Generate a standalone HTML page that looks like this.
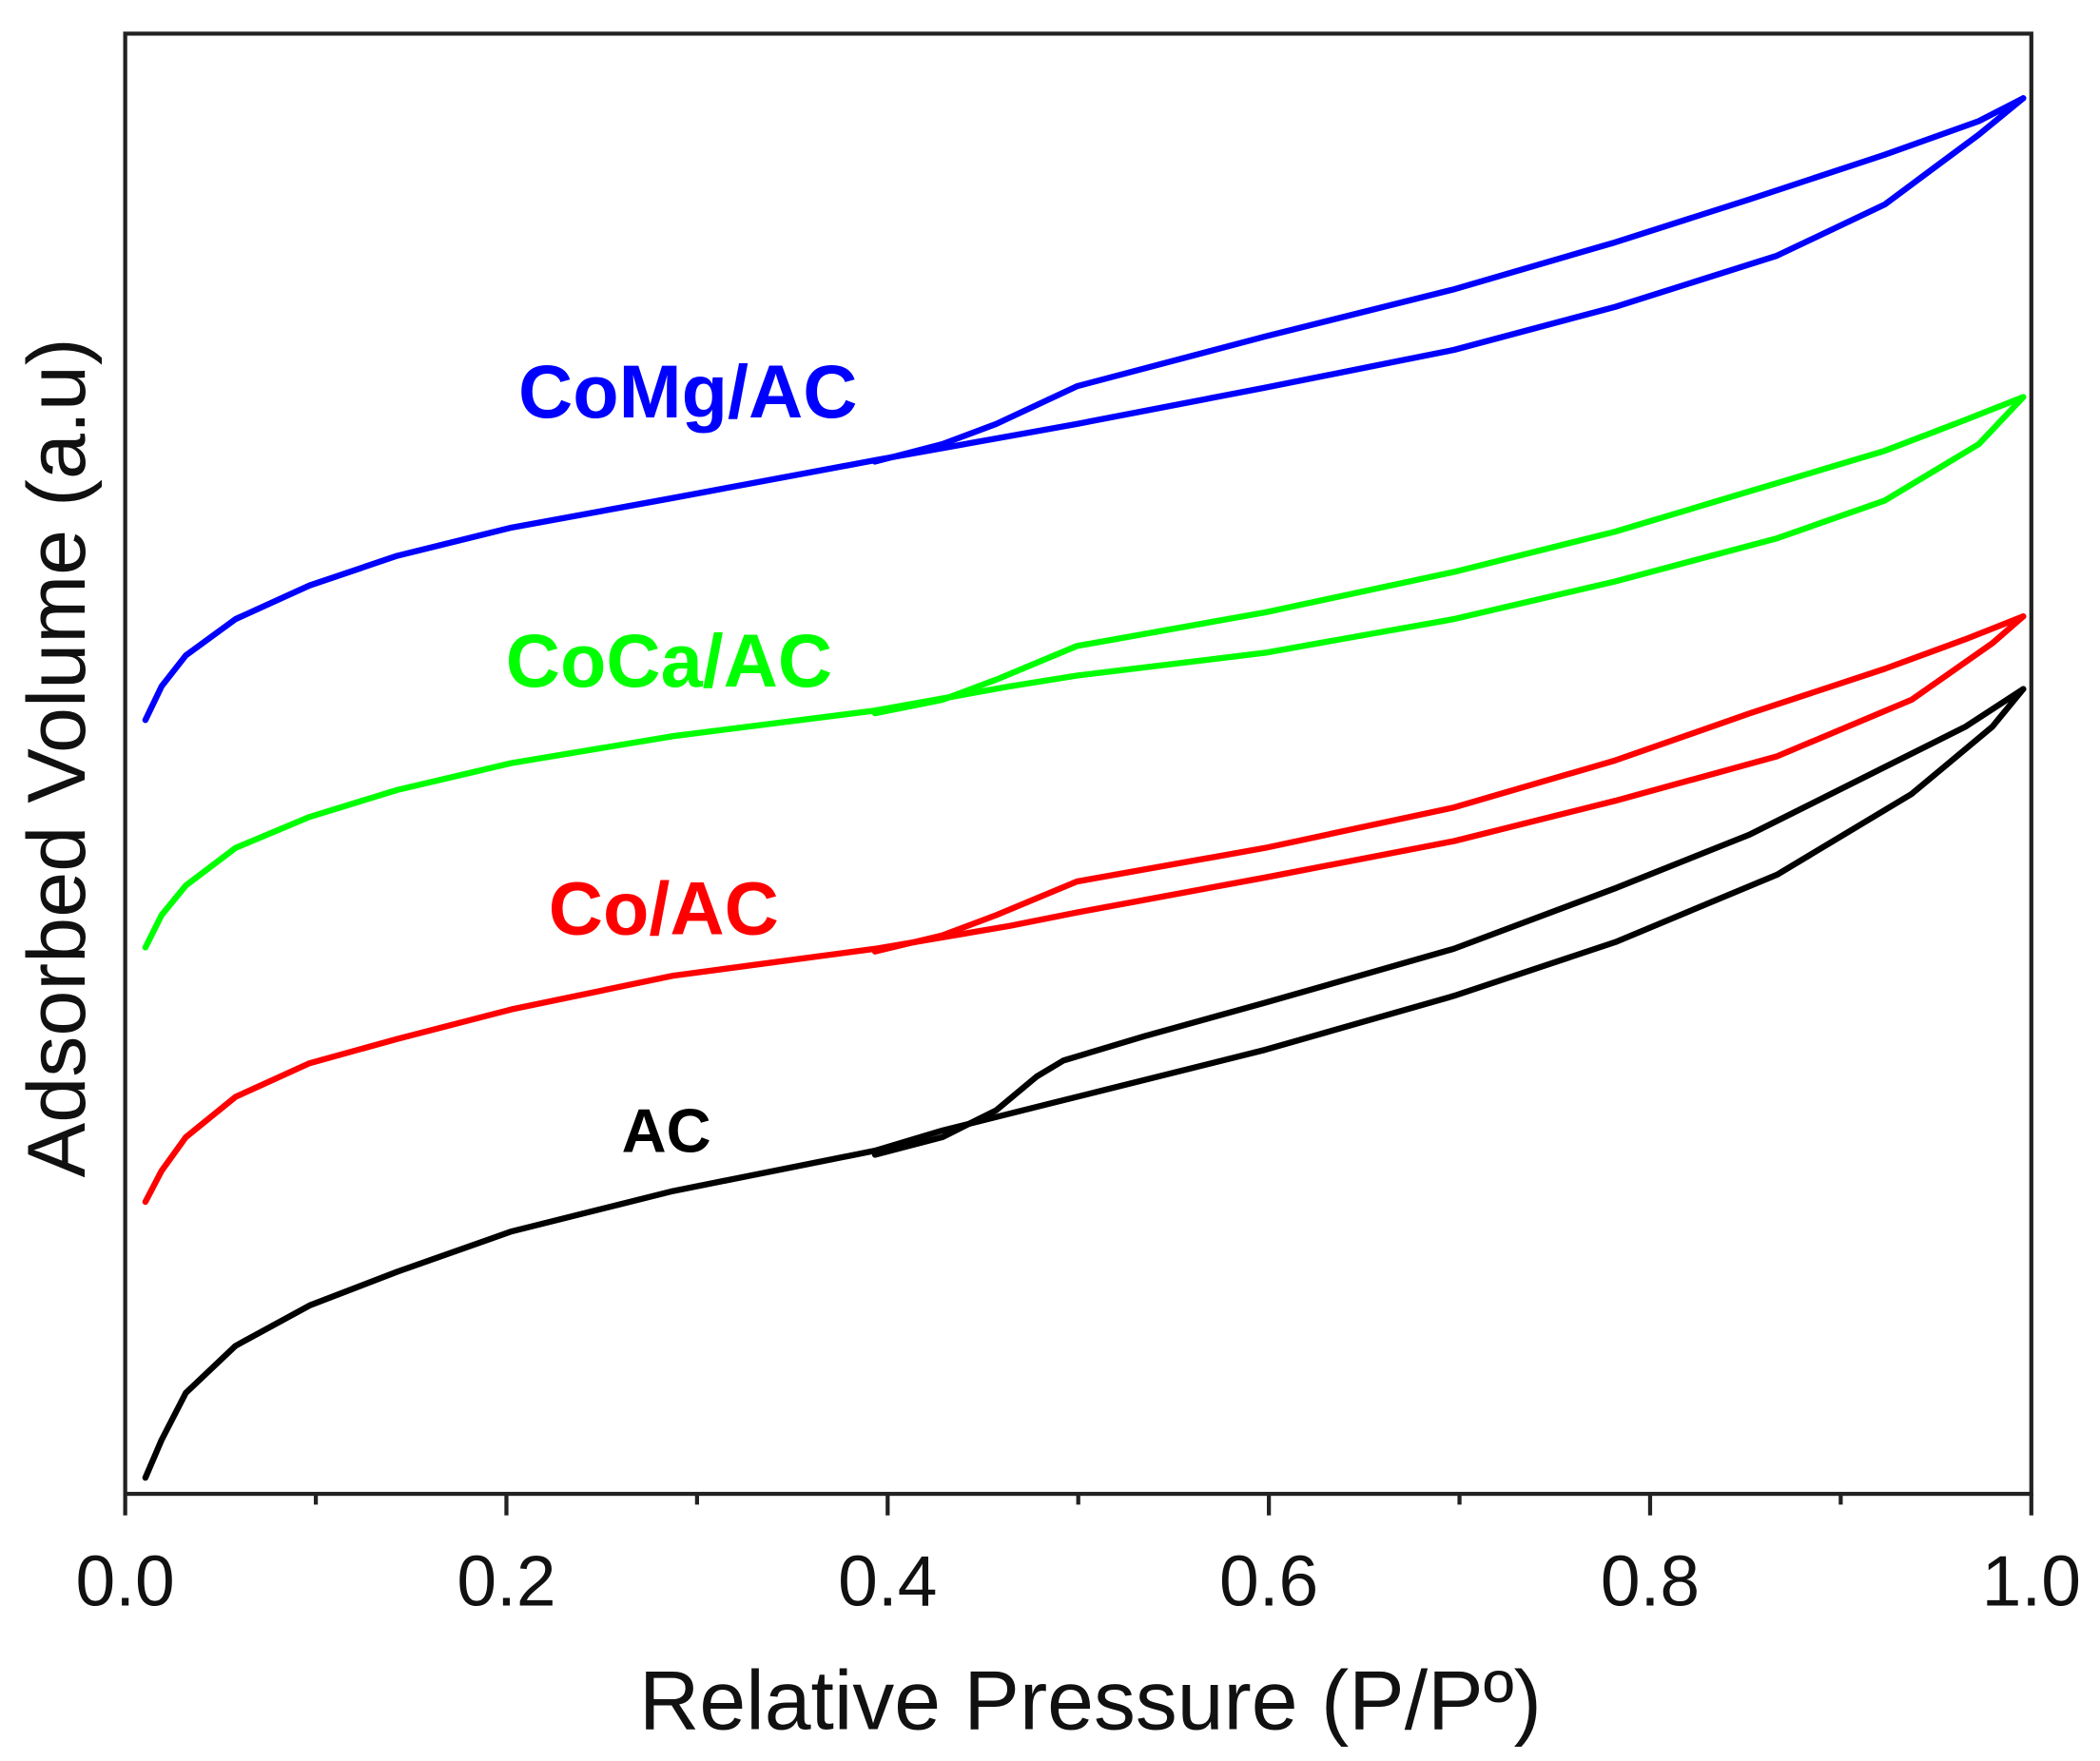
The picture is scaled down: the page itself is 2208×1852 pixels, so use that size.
<!DOCTYPE html>
<html><head><style>html,body{margin:0;padding:0;background:#fff}svg{display:block}</style></head>
<body>
<svg width="2208" height="1852" viewBox="0 0 1560 1308.5" xmlns="http://www.w3.org/2000/svg" font-family="Liberation Sans, sans-serif">
<rect x="0" y="0" width="1560" height="1308.5" fill="#fff"/>
<rect x="93" y="25" width="1416" height="1085" fill="none" stroke="#222" stroke-width="3"/>
<g stroke="#222" stroke-width="3">
<line x1="93" y1="1110" x2="93" y2="1126"/><line x1="376.2" y1="1110" x2="376.2" y2="1126"/><line x1="659.4" y1="1110" x2="659.4" y2="1126"/><line x1="942.6" y1="1110" x2="942.6" y2="1126"/><line x1="1225.8" y1="1110" x2="1225.8" y2="1126"/><line x1="1509" y1="1110" x2="1509" y2="1126"/>
<line x1="234.6" y1="1110" x2="234.6" y2="1118"/><line x1="517.8" y1="1110" x2="517.8" y2="1118"/><line x1="801" y1="1110" x2="801" y2="1118"/><line x1="1084.2" y1="1110" x2="1084.2" y2="1118"/><line x1="1367.4" y1="1110" x2="1367.4" y2="1118"/>
</g>
<g font-size="53" fill="#111" text-anchor="middle">
<text x="93" y="1193">0.0</text><text x="376.2" y="1193">0.2</text><text x="659.4" y="1193">0.4</text><text x="942.6" y="1193">0.6</text><text x="1225.8" y="1193">0.8</text><text x="1509" y="1193">1.0</text>
</g>
<text x="810" y="1285" font-size="62" text-anchor="middle" fill="#111">Relative Pressure (P/Pº)</text>
<text transform="translate(63,563) rotate(-90)" font-size="61" text-anchor="middle" fill="#111">Adsorbed Volume (a.u)</text>
<g fill="none" stroke-width="4.5" stroke-linejoin="round" stroke-linecap="round">
<polyline stroke="#000" points="108,1098 120,1070 138,1035 175,1000 230,970 295,945 380,915 500,885 650,855 700,840 780,820 940,780 1080,740 1200,700 1320,650 1420,590 1480,540 1503,512"/>
<polyline stroke="#000" points="1503,512 1460,540 1400,570 1300,620 1200,660 1080,705 940,745 850,770 790,788 770,800 740,825 700,845 650,858"/>
<polyline stroke="#f00" points="108,893 120,870 138,845 175,815 230,790 295,772 380,750 500,725 650,705 750,688 800,678 940,652 1080,625 1200,595 1320,562 1420,520 1480,478 1503,458"/>
<polyline stroke="#f00" points="1503,458 1460,475 1400,497 1300,530 1200,565 1080,600 940,630 800,655 740,680 700,695 650,707"/>
<polyline stroke="#0f0" points="108,704 120,680 138,658 175,630 230,607 295,587 380,567 500,547 650,528 750,510 800,502 940,485 1080,460 1200,432 1320,400 1400,372 1470,330 1503,295"/>
<polyline stroke="#0f0" points="1503,295 1460,312 1400,335 1300,365 1200,395 1080,425 940,455 800,480 740,505 700,520 650,530"/>
<polyline stroke="#00f" points="108,535 120,510 138,487 175,460 230,435 295,413 380,392 500,370 650,342 750,324 800,315 940,288 1080,260 1200,228 1320,190 1400,152 1470,100 1503,73"/>
<polyline stroke="#00f" points="1503,73 1470,90 1400,115 1300,148 1200,180 1080,215 940,250 800,287 740,315 700,330 650,343"/>
</g>
<g font-weight="bold" text-anchor="middle">
<text x="511" y="310" font-size="56" fill="#00f">CoMg/AC</text>
<text x="497" y="510" font-size="56" fill="#0f0">CoCa/AC</text>
<text x="493" y="694" font-size="56" fill="#f00">Co/AC</text>
<text x="495" y="856" font-size="46" fill="#000">AC</text>
</g>
</svg>
</body></html>
